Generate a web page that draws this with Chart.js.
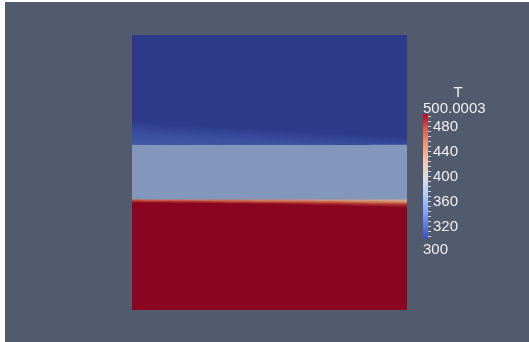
<!DOCTYPE html>
<html>
<head>
<meta charset="utf-8">
<script src="https://cdn.jsdelivr.net/npm/chart.js@4.4.0/dist/chart.umd.min.js"></script>
<style>
    html, body { margin: 0; padding: 0; background: #fff; width: 529px; height: 342px; overflow: hidden; }
    #field { position: absolute; left: 5px; top: 2px; width: 524px; height: 340px; background: #525a6e; }
    #bar { position: absolute; left: 410px; top: 80px; width: 119px; height: 180px; }
</style>
</head>
<body>
<div id="field"><canvas id="fieldCanvas" width="524" height="340"></canvas></div>
<div id="bar"><canvas id="barCanvas" width="119" height="180"></canvas></div>
<script>
// Posiciones horizontales (fracción del dominio)
const xs = [0, 0.1, 0.2, 0.3, 0.4, 0.5, 0.6, 0.7, 0.8, 0.9, 1.0];

// Alturas de las fronteras entre capas (fracción del dominio), de abajo a arriba
const redCore    = [0.391, 0.390, 0.389, 0.388, 0.386, 0.385, 0.383, 0.381, 0.379, 0.376, 0.373];
const redMid     = [0.394, 0.393, 0.392, 0.391, 0.390, 0.389, 0.388, 0.386, 0.384, 0.382, 0.380];
const redWarm    = [0.397, 0.396, 0.396, 0.395, 0.394, 0.393, 0.392, 0.391, 0.390, 0.388, 0.387];
const orangeBand = [0.400, 0.399, 0.399, 0.398, 0.398, 0.397, 0.397, 0.396, 0.395, 0.395, 0.394];
const interface1 = [0.403, 0.402, 0.402, 0.402, 0.402, 0.402, 0.402, 0.402, 0.402, 0.402, 0.402];
const midTop     = [0.600, 0.600, 0.600, 0.600, 0.600, 0.600, 0.600, 0.600, 0.600, 0.601, 0.601];
const topEdge    = [1, 1, 1, 1, 1, 1, 1, 1, 1, 1, 1];
// Borde superior de la zona azul más clara: izquierda, derecha
const smudgeTop  = [0.682, 0.628];

// Barra de colores
const cbTitle = 'T';
const cbMin = 300;
const cbMax = 500.0003;
const cbMaxLabel = '500.0003';
const cbMinLabel = '300';
const majorTicks = [320, 360, 400, 440, 480];
const allTicks = [304, 312, 320, 328, 336, 344, 352, 360, 368, 376, 384, 392, 400,
                  408, 416, 424, 432, 440, 448, 456, 464, 472, 480, 488, 496];
const coolWarm = [
    [0, '#3b4cc0'], [0.125, '#6282ea'], [0.25, '#8db0fe'], [0.375, '#b8d0f9'],
    [0.5, '#dddddd'], [0.625, '#f5c4ad'], [0.75, '#f49a7b'], [0.875, '#de604d'], [1, '#b40426']
];

// Degradado horizontal para las capas de la interfaz caliente
function hGradient(left, right) {
    return (ctx) => {
        const chart = ctx.chart;
        const a = chart.chartArea;
        if (!a) return left;
        const g = chart.ctx.createLinearGradient(a.left, 0, a.right, 0);
        g.addColorStop(0, left);
        g.addColorStop(1, right);
        return g;
    };
}

// Degradado inclinado para la zona azul superior
function blueGradient(ctx) {
    const chart = ctx.chart;
    const a = chart.chartArea;
    if (!a || !chart.scales.y) return '#2e3b8b';
    const y = chart.scales.y;
    const W = a.right - a.left;
    const y0 = y.getPixelForValue(midTop[0]);
    const yL = y.getPixelForValue(smudgeTop[0]);
    const yR = y.getPixelForValue(smudgeTop[1]);
    const d = yR - yL;
    const len = Math.sqrt(W * W + d * d);
    const nx = d / len, ny = -W / len;
    const dist = (y0 - yL) * W / len;
    const g = chart.ctx.createLinearGradient(a.left, y0, a.left + nx * dist, y0 + ny * dist);
    g.addColorStop(0, '#4660ac');
    g.addColorStop(0.12, '#3f57a6');
    g.addColorStop(0.45, '#3b51a0');
    g.addColorStop(0.8, '#334497');
    g.addColorStop(1, '#2e3b8b');
    return g;
}

function layer(values, color) {
    return {
        data: xs.map((x, i) => ({ x: x, y: values[i] })),
        backgroundColor: color,
        borderColor: 'transparent',
        borderWidth: 0,
        pointRadius: 0,
        tension: 0.3,
        fill: 'origin'
    };
}

new Chart(document.getElementById('fieldCanvas'), {
    type: 'line',
    data: {
        datasets: [
            layer(redCore, '#8a0520'),
            layer(redMid, '#9b1628'),
            layer(redWarm, '#b13532'),
            layer(orangeBand, hGradient('#c3503a', '#cd785a')),
            layer(interface1, hGradient('#c85f44', '#d4a587')),
            layer(midTop, '#8397bd'),
            layer(topEdge, blueGradient)
        ]
    },
    options: {
        responsive: false,
        animation: false,
        layout: { padding: { left: 127, top: 33, right: 122, bottom: 32 } },
        scales: {
            x: { type: 'linear', min: 0, max: 1, display: false },
            y: { min: 0, max: 1, display: false }
        },
        plugins: { legend: { display: false }, tooltip: { enabled: false } }
    }
});

// Textos de la barra de colores
const barLabels = {
    id: 'barLabels',
    afterDraw(chart) {
        const ctx = chart.ctx;
        const s = chart.scales.y;
        const a = chart.chartArea;
        ctx.save();
        ctx.fillStyle = '#f0f0f0';
        ctx.font = '15px "Liberation Sans", Arial, sans-serif';
        ctx.textBaseline = 'alphabetic';
        ctx.textAlign = 'left';
        ctx.fillText(cbMaxLabel, a.left, s.getPixelForValue(cbMax) - 1);
        ctx.fillText(cbMinLabel, a.left, s.getPixelForValue(cbMin) + 15);
        ctx.textAlign = 'center';
        ctx.fillText(cbTitle, a.left + 35, s.getPixelForValue(cbMax) - 17);
        ctx.restore();
    }
};

new Chart(document.getElementById('barCanvas'), {
    type: 'bar',
    data: {
        labels: [cbTitle],
        datasets: [{
            data: [[cbMin, cbMax]],
            barPercentage: 1,
            categoryPercentage: 1,
            borderWidth: 0,
            borderSkipped: false,
            backgroundColor: (ctx) => {
                const a = ctx.chart.chartArea;
                if (!a) return '#dddddd';
                const g = ctx.chart.ctx.createLinearGradient(0, a.bottom, 0, a.top);
                coolWarm.forEach(([p, c]) => g.addColorStop(p, c));
                return g;
            }
        }]
    },
    options: {
        responsive: false,
        animation: false,
        layout: { padding: { left: 13, top: 34, right: 71, bottom: 21 } },
        scales: {
            x: { display: false },
            y: {
                position: 'right',
                min: cbMin,
                max: cbMax,
                afterBuildTicks: (s) => { s.ticks = allTicks.map(v => ({ value: v })); },
                afterFit: (s) => { s.width = 30; },
                border: { display: false },
                grid: { drawOnChartArea: false, drawTicks: true, tickLength: 3, tickColor: 'rgba(235,235,240,0.85)' },
                ticks: {
                    autoSkip: false,
                    padding: 2,
                    color: '#f0f0f0',
                    font: { family: '"Liberation Sans", Arial, sans-serif', size: 15 },
                    callback: (v) => majorTicks.includes(v) ? String(v) : ''
                }
            }
        },
        plugins: { legend: { display: false }, tooltip: { enabled: false } }
    },
    plugins: [barLabels]
});
</script>
</body>
</html>
